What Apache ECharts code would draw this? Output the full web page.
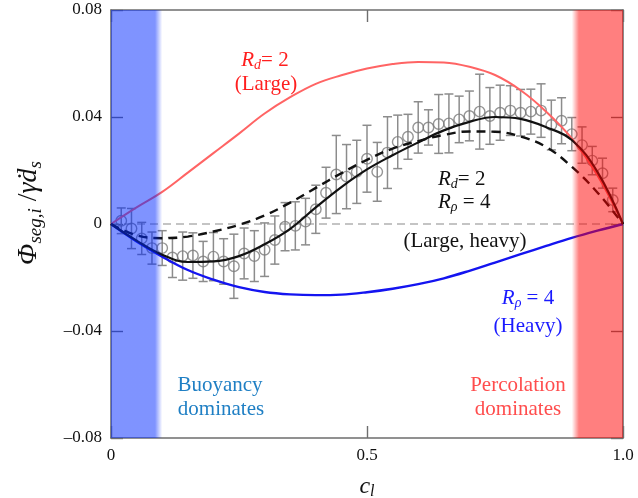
<!DOCTYPE html>
<html>
<head>
<meta charset="utf-8">
<script src="https://cdn.jsdelivr.net/npm/echarts@6/dist/echarts.min.js"></script>
<style>
  html, body { margin: 0; padding: 0; background: #ffffff; }
  #chart { width: 638px; height: 498px; }
</style>
</head>
<body>
<div id="chart"></div>
<script>
// Liquid concentration at which the model curves are sampled
const curveC = [0, 0.05, 0.10, 0.15, 0.20, 0.25, 0.30, 0.35, 0.40, 0.45, 0.50,
                0.55, 0.60, 0.65, 0.70, 0.75, 0.80, 0.85, 0.90, 0.95, 1.0];
// Model: size ratio only (R_d = 2)
const largeOnly = [0, 0.0062, 0.0120, 0.0192, 0.0265, 0.0338, 0.0413, 0.0474, 0.0524, 0.0556, 0.0581,
                   0.0598, 0.0606, 0.0604, 0.0588, 0.0557, 0.0500, 0.0420, 0.0320, 0.0182, 0];
// Model: density ratio only (R_rho = 4)
const heavyOnly = [0, -0.0065, -0.0122, -0.0172, -0.0208, -0.0236, -0.0254, -0.0263, -0.0266, -0.0264, -0.0255,
                   -0.0242, -0.0225, -0.0203, -0.0175, -0.0144, -0.0113, -0.0082, -0.0052, -0.0025, 0];
// Model: combined size and density ratio (solid)
const largeHeavy = [0, -0.0062, -0.0115, -0.0142, -0.0140, -0.0120, -0.0076, -0.0018, 0.0062, 0.0138, 0.0204,
                    0.0257, 0.0305, 0.0350, 0.0382, 0.0400, 0.0393, 0.0362, 0.0314, 0.0195, 0];
// Model: combined size and density ratio, superposition (dashed)
const largeHeavySum = [0, -0.0042, -0.0053, -0.0047, -0.0028, -0.0003, 0.0032, 0.0080, 0.0135, 0.0190, 0.0240,
                       0.0282, 0.0310, 0.0333, 0.0346, 0.0345, 0.0327, 0.0288, 0.0214, 0.0118, 0];

// Simulation results with standard-deviation bars
const simC = [0.02, 0.04, 0.06, 0.08, 0.10, 0.12, 0.14, 0.16, 0.18, 0.20,
              0.22, 0.24, 0.26, 0.28, 0.30, 0.32, 0.34, 0.36, 0.38, 0.40,
              0.42, 0.44, 0.46, 0.48, 0.50, 0.52, 0.54, 0.56, 0.58, 0.60,
              0.62, 0.64, 0.66, 0.68, 0.70, 0.72, 0.74, 0.76, 0.78, 0.80,
              0.82, 0.84, 0.86, 0.88, 0.90, 0.92, 0.94, 0.96, 0.98];
const simMean = [0.0012, -0.0017, -0.0054, -0.0090, -0.0090, -0.0125, -0.0120, -0.0118, -0.0140, -0.0122,
                 -0.0140, -0.0158, -0.0110, -0.0120, -0.0096, -0.0060, -0.0010, -0.0007, 0.0009, 0.0055,
                 0.0117, 0.0185, 0.0177, 0.0195, 0.0244, 0.0195, 0.0267, 0.0307, 0.0326, 0.0361,
                 0.0361, 0.0374, 0.0376, 0.0391, 0.0404, 0.0420, 0.0404, 0.0416, 0.0424, 0.0416,
                 0.0420, 0.0424, 0.0370, 0.0386, 0.0336, 0.0295, 0.0237, 0.0190, 0.0090];
const simErr = [0.0048, 0.0075, 0.0060, 0.0060, 0.0065, 0.0075, 0.0090, 0.0085, 0.0075, 0.0090,
                0.0085, 0.0120, 0.0095, 0.0095, 0.0100, 0.0090, 0.0090, 0.0090, 0.0087, 0.0090,
                0.0095, 0.0146, 0.0120, 0.0118, 0.0125, 0.0110, 0.0134, 0.0100, 0.0084, 0.0096,
                0.0066, 0.0110, 0.0110, 0.0087, 0.0093, 0.0140, 0.0106, 0.0103, 0.0093, 0.0087,
                0.0084, 0.0100, 0.0093, 0.0086, 0.0062, 0.0068, 0.0053, 0.0056, 0.0044];

// Regimes shaded at both ends of the concentration range
const regimeBands = [[0, 0.1], [0.9, 1.0]];

const xTicks = [0, 0.5, 1.0];
const yTicks = [-0.08, -0.04, 0, 0.04, 0.08];
const xTickLabels = ['0', '0.5', '1.0'];
const yTickLabels = ['\u20130.08', '\u20130.04', '0', '0.04', '0.08'];

const pairs = (xs, ys) => xs.map((x, i) => [x, ys[i]]);

const SERIF = '"Liberation Serif", "DejaVu Serif", serif';
const FRAME = '#6e6e6e';

const chart = echarts.init(document.getElementById('chart'), null, { renderer: 'canvas' });

function axisPair(isX, main) {
  const ticks = isX ? xTicks : yTicks;
  const labels = isX ? xTickLabels : yTickLabels;
  return {
    type: 'value',
    min: ticks[0],
    max: ticks[ticks.length - 1],
    interval: ticks[1] - ticks[0],
    position: isX ? (main ? 'bottom' : 'top') : (main ? 'left' : 'right'),
    axisLine: { show: true, onZero: false, lineStyle: { color: FRAME, width: 1.6 } },
    axisTick: { show: true, inside: true, length: 12, lineStyle: { color: FRAME, width: 1.4 } },
    axisLabel: {
      show: main,
      margin: 9,
      fontFamily: SERIF,
      fontSize: 17,
      color: '#111',
      formatter: (v) => {
        const k = ticks.findIndex(t => Math.abs(t - v) < 1e-9);
        return k >= 0 ? labels[k] : '';
      }
    },
    splitLine: { show: false }
  };
}

const xMain = axisPair(true, true);
xMain.name = '{i|c}{s|l}';
xMain.nameLocation = 'middle';
xMain.nameGap = 36;
xMain.nameTextStyle = {
  rich: {
    i: { fontFamily: SERIF, fontStyle: 'italic', fontSize: 24, color: '#111', lineHeight: 26 },
    s: { fontFamily: SERIF, fontStyle: 'italic', fontSize: 16, color: '#111', lineHeight: 15, verticalAlign: 'bottom' }
  }
};

const yMain = axisPair(false, true);
yMain.name = '{i|\u03A6}{s|seg,i}{n| /}{i|\u03B3\u0307d}{s|s}';
yMain.nameLocation = 'middle';
yMain.nameRotate = 90;
yMain.nameGap = 66;
yMain.nameTextStyle = {
  padding: [0, 0, 0, 22],
  rich: {
    i: { fontFamily: SERIF, fontStyle: 'italic', fontSize: 28, color: '#111', lineHeight: 32 },
    n: { fontFamily: SERIF, fontSize: 28, color: '#111', lineHeight: 32 },
    s: { fontFamily: SERIF, fontStyle: 'italic', fontSize: 19, color: '#111', lineHeight: 17, verticalAlign: 'bottom' }
  }
};

const option = {
  backgroundColor: '#ffffff',
  animation: false,
  grid: { left: 111, right: 15, top: 10, bottom: 60, containLabel: false, outerBoundsMode: 'none' },
  xAxis: [xMain, axisPair(true, false)],
  yAxis: [yMain, axisPair(false, false)],
  series: [
    {
      // zero reference
      type: 'line',
      data: [[xTicks[0], 0], [xTicks[xTicks.length - 1], 0]],
      symbol: 'none',
      silent: true,
      z: 1,
      lineStyle: { color: '#8a8a8a', width: 1.2, type: [8, 5] }
    },
    {
      // error bars of the simulation
      type: 'custom',
      z: 2,
      silent: true,
      data: simC.map((c, i) => [c, simMean[i], simErr[i]]),
      encode: { x: 0, y: 1 },
      renderItem: (params, api) => {
        const c = api.value(0), m = api.value(1), e = api.value(2);
        const top = api.coord([c, m + e]);
        const bot = api.coord([c, m - e]);
        const cap = 4.5;
        const st = { stroke: '#8c8c8c', lineWidth: 1.5 };
        return {
          type: 'group',
          children: [
            { type: 'line', shape: { x1: top[0], y1: top[1], x2: bot[0], y2: bot[1] }, style: st },
            { type: 'line', shape: { x1: top[0] - cap, y1: top[1], x2: top[0] + cap, y2: top[1] }, style: st },
            { type: 'line', shape: { x1: bot[0] - cap, y1: bot[1], x2: bot[0] + cap, y2: bot[1] }, style: st }
          ]
        };
      }
    },
    {
      // simulation means
      type: 'scatter',
      z: 3,
      data: pairs(simC, simMean),
      symbol: 'circle',
      symbolSize: 10.5,
      itemStyle: { color: 'rgba(255,255,255,0)', borderColor: '#7a7a7a', borderWidth: 1.4 }
    },
    {
      type: 'line',
      z: 4,
      data: pairs(curveC, largeOnly),
      smooth: 0.4,
      symbol: 'none',
      lineStyle: { color: '#ff6464', width: 2 }
    },
    {
      type: 'line',
      z: 4,
      data: pairs(curveC, heavyOnly),
      smooth: 0.4,
      symbol: 'none',
      lineStyle: { color: '#1414f0', width: 2.4 }
    },
    {
      type: 'line',
      z: 4,
      data: pairs(curveC, largeHeavySum),
      smooth: 0.4,
      symbol: 'none',
      lineStyle: { color: '#111111', width: 2.4, type: [9, 6] }
    },
    {
      type: 'line',
      z: 5,
      data: pairs(curveC, largeHeavy),
      smooth: 0.4,
      symbol: 'none',
      lineStyle: { color: '#111111', width: 2.2 }
    },
    {
      // translucent regime bands laid over the curves
      type: 'custom',
      z: 8,
      silent: true,
      data: regimeBands.map((b, i) => [b[0], b[1], i]),
      encode: { x: [0, 1] },
      renderItem: (params, api) => {
        const x0 = api.value(0), x1 = api.value(1), k = api.value(2);
        const p0 = api.coord([x0, yTicks[yTicks.length - 1]]);
        const p1 = api.coord([x1, yTicks[0]]);
        const fill = k === 0
          ? { type: 'linear', x: 0, y: 0, x2: 1, y2: 0, colorStops: [
              { offset: 0, color: 'rgba(0,40,255,0.5)' },
              { offset: 0.86, color: 'rgba(0,40,255,0.5)' },
              { offset: 1, color: 'rgba(0,40,255,0)' } ] }
          : { type: 'linear', x: 0, y: 0, x2: 1, y2: 0, colorStops: [
              { offset: 0, color: 'rgba(255,0,0,0)' },
              { offset: 0.14, color: 'rgba(255,0,0,0.5)' },
              { offset: 1, color: 'rgba(255,0,0,0.5)' } ] };
        return {
          type: 'rect',
          shape: { x: p0[0], y: p0[1], width: p1[0] - p0[0], height: p1[1] - p0[1] },
          style: { fill: fill }
        };
      }
    }
  ],
  graphic: []
};

// Annotations
function label(x, y, text, color, align) {
  return {
    type: 'text',
    x: x, y: y,
    z: 20,
    silent: true,
    style: {
      text: text,
      fill: color,
      align: align || 'center',
      verticalAlign: 'middle',
      font: '21px ' + SERIF,
      rich: {
        i: { fontFamily: SERIF, fontStyle: 'italic', fontSize: 21, fill: color, lineHeight: 24 },
        s: { fontFamily: SERIF, fontStyle: 'italic', fontSize: 14, fill: color, lineHeight: 14, verticalAlign: 'bottom' },
        n: { fontFamily: SERIF, fontSize: 21, fill: color, lineHeight: 24 }
      }
    }
  };
}

option.graphic = [
  label(265, 60, '{i|R}{s|d}{n|= 2}', '#ff1f1f'),
  label(266, 84, '{n|(Large)}', '#ff1f1f'),
  label(438, 179, '{i|R}{s|d}{n|= 2}', '#111111', 'left'),
  label(438, 202, '{i|R}{s|\u03C1}{n| = 4}', '#111111', 'left'),
  label(465, 241, '{n|(Large, heavy)}', '#111111'),
  label(528, 298, '{i|R}{s|\u03C1}{n| = 4}', '#1a1aff'),
  label(528, 326, '{n|(Heavy)}', '#1a1aff'),
  label(220, 385, '{n|Buoyancy}', '#1f7fc4'),
  label(221, 409, '{n|dominates}', '#1f7fc4'),
  label(518, 385, '{n|Percolation}', '#ff4d4d'),
  label(518, 409, '{n|dominates}', '#ff4d4d')
];

chart.setOption(option);
</script>
</body>
</html>
